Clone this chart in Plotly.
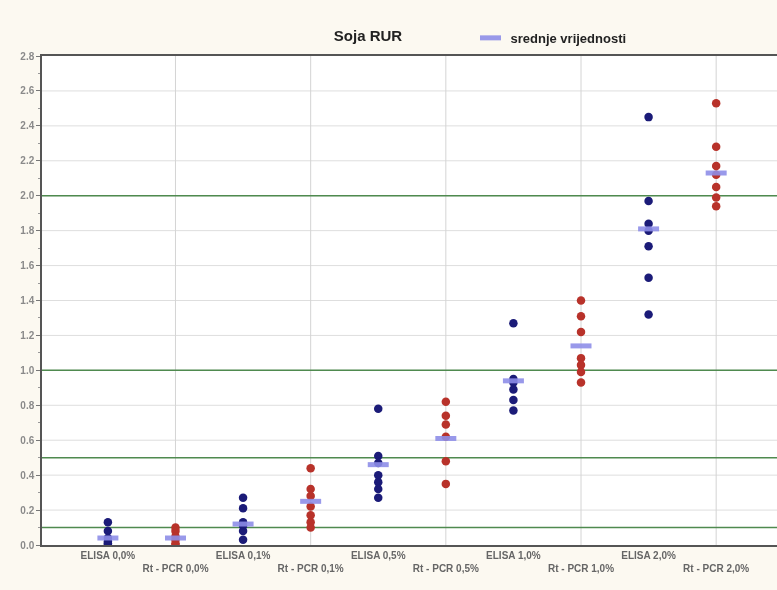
import plotly.graph_objects as go

categories = ["ELISA 0,0%", "Rt - PCR 0,0%", "ELISA 0,1%", "Rt - PCR 0,1%",
              "ELISA 0,5%", "Rt - PCR 0,5%", "ELISA 1,0%", "Rt - PCR 1,0%",
              "ELISA 2,0%", "Rt - PCR 2,0%"]

elisa_00 = [0.13, 0.08, 0.04, 0.02, 0.01, 0.0]
rtpcr_00 = [0.10, 0.08, 0.05, 0.03, 0.01, 0.0]
elisa_01 = [0.27, 0.21, 0.13, 0.11, 0.08, 0.03]
rtpcr_01 = [0.44, 0.32, 0.28, 0.22, 0.17, 0.13, 0.10]
elisa_05 = [0.78, 0.51, 0.47, 0.40, 0.36, 0.32, 0.27]
rtpcr_05 = [0.82, 0.74, 0.69, 0.62, 0.48, 0.35]
elisa_10 = [1.27, 0.95, 0.93, 0.89, 0.83, 0.77]
rtpcr_10 = [1.40, 1.31, 1.22, 1.07, 1.03, 0.99, 0.93]
elisa_20 = [2.45, 1.97, 1.84, 1.80, 1.71, 1.53, 1.32]
rtpcr_20 = [2.53, 2.28, 2.17, 2.12, 2.05, 1.99, 1.94]

means = [0.04, 0.04, 0.12, 0.25, 0.46, 0.61, 0.94, 1.14, 1.81, 2.13]

reference_levels = [0.1, 0.5, 1.0, 2.0]

y_ticks = [0.0, 0.2, 0.4, 0.6, 0.8, 1.0, 1.2, 1.4, 1.6, 1.8, 2.0, 2.2, 2.4, 2.6, 2.8]

elisa_groups = [elisa_00, elisa_01, elisa_05, elisa_10, elisa_20]
rtpcr_groups = [rtpcr_00, rtpcr_01, rtpcr_05, rtpcr_10, rtpcr_20]

ex, ey, rx, ry = [], [], [], []
for k, g in enumerate(elisa_groups):
    ex += [2 * k] * len(g)
    ey += g
for k, g in enumerate(rtpcr_groups):
    rx += [2 * k + 1] * len(g)
    ry += g

fig = go.Figure()

fig.add_trace(go.Scatter(x=ex, y=ey, mode="markers", showlegend=False,
                         marker=dict(size=8.5, color="#1b1b78"), hoverinfo="y"))
fig.add_trace(go.Scatter(x=rx, y=ry, mode="markers", showlegend=False,
                         marker=dict(size=8.5, color="#b8322a"), hoverinfo="y"))
fig.add_trace(go.Scatter(x=list(range(len(categories))), y=means, mode="markers",
                         name="<b>srednje vrijednosti</b>", opacity=0.9,
                         marker=dict(symbol="line-ew", size=15,
                                     line=dict(width=5, color="#8e8ee8"))))

# light grid (as shapes so the reference lines can sit on top of it)
for v in y_ticks[1:-1]:
    fig.add_hline(y=v, line=dict(color="#dedede", width=1), layer="below")
for i in range(1, len(categories), 2):
    fig.add_vline(x=i, line=dict(color="#d4d4d4", width=1), layer="below")
for lv in reference_levels:
    fig.add_hline(y=lv, line=dict(color="#4f8a4f", width=1.5), layer="below")

ticktext = ["<b>" + c + "</b>" if i % 2 == 0 else "<br><b>" + c + "</b>"
            for i, c in enumerate(categories)]

fig.update_layout(
    width=777, height=590,
    margin=dict(l=42, r=0, t=56, b=45),
    paper_bgcolor="#fcf9f1",
    plot_bgcolor="#ffffff",
    font=dict(family="Liberation Sans, Arial, sans-serif", color="#666666"),
    title=dict(text="<b>Soja RUR</b>", x=0.4435, xref="paper", xanchor="center",
               y=1 - 36 / 590, yanchor="middle",
               font=dict(size=15, color="#222222")),
    legend=dict(x=0.583, xanchor="left", y=1.037, yanchor="middle",
                bgcolor="rgba(0,0,0,0)", font=dict(size=13, color="#222222"),
                itemwidth=30),
    xaxis=dict(range=[-0.975, 9.9], tickmode="array",
               tickvals=list(range(len(categories))), ticktext=ticktext,
               tickfont=dict(size=10, color="#666666"), ticks="",
               showgrid=False, zeroline=False, showline=True, linecolor="#555555",
               linewidth=1.5, mirror=True),
    yaxis=dict(range=[0, 2.8], tickmode="array", tickvals=y_ticks,
               ticktext=[f"<b>{v:.1f}</b>" for v in y_ticks],
               tickfont=dict(size=10, color="#8a8a8a"), ticks="outside", ticklen=4,
               tickcolor="#777777",
               showgrid=False, zeroline=False,
               showline=True, linecolor="#555555", linewidth=1.5,
               minor=dict(dtick=0.1, ticks="outside", ticklen=2, tickcolor="#999999")),
)

fig.write_html("out.html", config={"responsive": False, "displayModeBar": False},
               post_script="document.body.style.margin='0';document.body.style.overflow='hidden';")
